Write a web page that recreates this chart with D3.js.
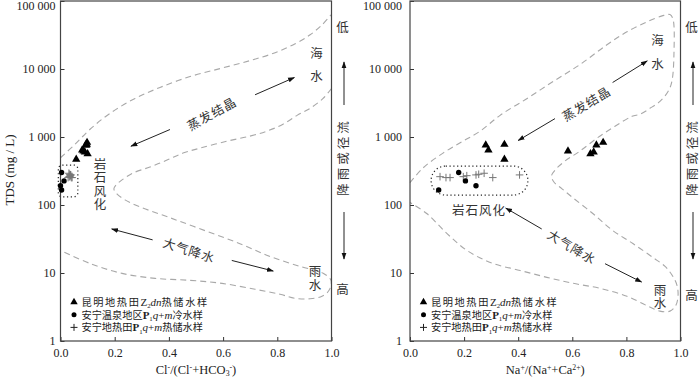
<!doctype html>
<html>
<head>
<meta charset="utf-8">
<style>
  body { margin:0; background:#fff; }
  svg { display:block; font-family:"Liberation Serif", "Times New Roman", serif; }
</style>
<script src="https://d3js.org/d3.v7.min.js"></script>
</head>
<body>
<script>
// ---- data ----
var tdsTicks = [1, 10, 100, 1000, 10000, 100000];
var ratioTicks = [0, 0.2, 0.4, 0.6, 0.8, 1.0];

// Kunming Z2dn geothermal water (triangles)
var kmTDS = [759, 641, 777, 469, 620, 566, 600, 759, 831];
var kmCl  = [0.095, 0.080, 0.097, 0.058, 0.085, 0.100, 0.090, 0.093, 0.098];
var kmNa  = [0.280, 0.290, 0.349, 0.349, 0.584, 0.667, 0.679, 0.689, 0.714];

// Anning spring area P1q+m cold water (circles)
var coldTDS = [300, 226, 192, 166];
var coldCl  = [0.004, 0.013, 0.000, 0.004];
var coldNa  = [0.180, 0.205, 0.244, 0.106];

// Anning geothermal P1q+m water (crosses)
var geoTDS = [261, 253, 253, 261, 270, 277, 283, 293, 253, 277];
var geoCl  = [0.035, 0.028, 0.040, 0.032, 0.036, 0.038, 0.034, 0.031, 0.043, 0.037];
var geoNa  = [0.111, 0.133, 0.148, 0.197, 0.210, 0.244, 0.254, 0.274, 0.306, 0.405];

// Gibbs envelope (ratio, TDS)
var envClTop = [[0,495],[0.054,785],[0.109,1300],[0.183,2230],[0.275,3690],[0.367,5350],
  [0.478,7740],[0.589,10140],[0.699,13270],[0.792,17380],[0.866,23500],[0.921,31850],[0.965,44600],[0.998,62400]];
var envClRest = [[1.0,5170],[0.969,3690],[0.921,2640],[0.873,2080],[0.821,1540],[0.762,1220],
  [0.699,1030],[0.614,868],[0.515,686],[0.452,580],[0.393,458],[0.330,362],[0.268,296],[0.227,234],
  [0.205,197],[0.197,173],[0.208,146],[0.238,119],[0.293,94],[0.404,65],[0.533,42],[0.662,27],
  [0.773,17.5],[0.884,12.5],[0.969,9.9],[0.998,7.8],[0.991,5.57],[0.965,4.55],[0.921,4.18],
  [0.865,4.25],[0.810,4.87],[0.718,5.76],[0.596,7.04],[0.478,7.8],[0.349,8.34],[0.227,9.87],
  [0.109,13.8],[0,21.4]];
var envNa = [[0,213],[0.048,350],[0.122,580],[0.196,868],[0.259,1216],[0.333,2083],[0.433,3690],
  [0.529,6540],[0.628,11600],[0.728,22700],[0.802,35200],[0.876,49300],[0.932,60400],[0.961,63100],
  [0.972,54600],[0.976,17960],[0.968,6540],[0.954,4670],[0.924,3340],[0.887,2640],[0.850,2155],
  [0.821,2015],[0.758,1440],[0.691,960],[0.628,620],[0.573,443],[0.540,338],[0.523,267],[0.532,218],
  [0.562,173],[0.603,127],[0.677,74.3],[0.750,42],[0.824,27.1],[0.898,16.9],[0.943,12.5],[0.972,8.9],
  [0.987,6.59],[0.991,4.71],[0.983,3.36],[0.961,2.75],[0.924,2.75],[0.880,3.25],[0.802,4.55],
  [0.702,5.96],[0.603,7.05],[0.506,8.63],[0.407,10.9],[0.307,13.8],[0.211,21.4],[0.137,37.9],
  [0.063,74.3],[0,109]];

// dotted rock-weathering boxes [ratio range], [TDS range]
var boxCl = {x: [-0.008, 0.064], t: [132, 387]};
var boxNa = {x: [0.078, 0.436], t: [140, 374]};

var legendRows = [
  [["昆明地热田","cs"],["Z","r"],["2","sub"],["dn","i"],["热储水样","cs"]],
  [["安宁温泉地区","c"],["P","b"],["1","sub"],["q","i"],["+","r"],["m","i"],["冷水样","c"]],
  [["安宁地热田","c"],["P","b"],["1","sub"],["q","i"],["+","r"],["m","i"],["热储水样","c"]]
];

// ---- drawing ----
var W = 700, H = 377;
var svg = d3.select("body").append("svg").attr("width", W).attr("height", H);
svg.append("rect").attr("width", W).attr("height", H).attr("fill", "#fff");

var CJK = '"Noto Sans CJK SC", sans-serif';
var SERIF = '"Liberation Serif", "Times New Roman", serif';

function rich(t, parts, fs) {
  var shift = 0;
  parts.forEach(function(p) {
    var target = p[1] === "sub" ? 2.5 : (p[1] === "sup" ? -4 : 0);
    var ts = t.append("tspan").text(p[0]);
    if (target !== shift) ts.attr("dy", target - shift);
    shift = target;
    if (p[1] === "c" || p[1] === "cs") ts.style("font-family", CJK).style("font-size", (fs - 0.8) + "px");
    else ts.style("font-family", SERIF);
    if (p[1] === "cs") ts.style("letter-spacing", "1.6px");
    if (p[1] === "sub" || p[1] === "sup") ts.style("font-size", (fs * 0.62) + "px");
    if (p[1] === "i") ts.style("font-style", "italic");
    if (p[1] === "b") ts.style("font-weight", "bold");
  });
  return t;
}

svg.append("defs").append("marker")
  .attr("id", "ah").attr("viewBox", "0 0 10 10")
  .attr("refX", 9).attr("refY", 5)
  .attr("markerWidth", 7).attr("markerHeight", 7)
  .attr("orient", "auto")
  .append("path").attr("d", "M0,1.5 L10,5 L0,8.5 Z").attr("fill", "#111");

var fmtTds = function(d) { return d3.format(",")(d).replace(/,/g, " "); };

var panels = [
  {x0: 60.5, x1: 331.5, kmX: kmCl, coldX: coldCl, geoX: geoCl, box: boxCl, boxR: 4,
   env: [envClTop, envClRest], tickPad: 5,
   title: [["Cl","r"],["-","sup"],["/(Cl","r"],["-","sup"],["+HCO","r"],["3","sub"],["-","sup"],[")","r"]],
   texts: [
     {s: "蒸发结晶", x: 0.559, t: 2190, a: -29},
     {s: "大气降水", x: 0.474, t: 21.4, a: 18}
   ],
   // vertical labels: characters stacked top to bottom, anchored at (ratio, TDS of first char)
   vtexts: [
     {s: "海水", x: 0.945, t: 16980, step: 23},
     {s: "雨水", x: 0.939, t: 10.4, step: 13.5},
     {s: "岩石风化", x: 0.146, t: 400, step: 13.6}
   ],
   arrows: [
     [[0.718,4180],[0.863,7490]], [[0.404,1288],[0.260,733]],
     [[0.340,30.7],[0.189,44.4]], [[0.632,15.3],[0.785,10.7]]
   ],
   gao: 289},
  {x0: 410, x1: 680.5, kmX: kmNa, coldX: coldNa, geoX: geoNa, box: boxNa, boxR: 14.6,
   env: [envNa], tickPad: 8,
   title: [["Na","r"],["+","sup"],["/(Na","r"],["+","sup"],["+Ca","r"],["2+","sup"],[")","r"]],
   texts: [
     {s: "蒸发结晶", x: 0.653, t: 3070, a: -31},
     {s: "大气降水", x: 0.598, t: 23.9, a: 31},
     {s: "岩石风化", x: 0.255, t: 82.3, a: 0}
   ],
   vtexts: [
     {s: "海水", x: 0.915, t: 26000, step: 23.5},
     {s: "雨水", x: 0.924, t: 5.6, step: 13.5}
   ],
   arrows: [
     [[0.749,6330],[0.877,13130]], [[0.536,1864],[0.400,889]],
     [[0.487,44.4],[0.354,90.1]], [[0.721,13.7],[0.856,7.36]]
   ],
   gao: 295}
];

panels.forEach(function(p) {
  var x = d3.scaleLinear().domain([0, 1]).range([p.x0, p.x1]);
  var y = d3.scaleLog().domain([1, 100000]).range([341, 1]);
  var g = svg.append("g");

  // envelope
  var line = d3.line().x(function(d) { return x(d[0]); }).y(function(d) { return y(d[1]); })
    .curve(d3.curveCatmullRom.alpha(0.5));
  p.env.forEach(function(e) {
    g.append("path").attr("d", line(e)).attr("fill", "none")
      .attr("stroke", "#a8a8a8").attr("stroke-width", 1.1).attr("stroke-dasharray", "6,4");
  });

  // dotted box
  g.append("rect")
    .attr("x", x(p.box.x[0])).attr("y", y(p.box.t[1]))
    .attr("width", x(p.box.x[1]) - x(p.box.x[0]))
    .attr("height", y(p.box.t[0]) - y(p.box.t[1]))
    .attr("rx", p.boxR).attr("ry", p.boxR)
    .attr("fill", "none").attr("stroke", "#222").attr("stroke-width", 1.2)
    .attr("stroke-dasharray", "1.2,2.6");

  // axes
  var ya = d3.axisLeft(y).tickValues(tdsTicks).tickFormat(fmtTds)
    .tickSizeInner(-4).tickSizeOuter(0).tickPadding(p.tickPad);
  var xa = d3.axisBottom(x).tickValues(ratioTicks).tickFormat(d3.format(".1f"))
    .tickSizeInner(-4).tickSizeOuter(0).tickPadding(7);
  var gy = g.append("g").attr("transform", "translate(" + p.x0 + ",0)").call(ya);
  var gx = g.append("g").attr("transform", "translate(0,341)").call(xa);
  [gy, gx].forEach(function(a) {
    a.select(".domain").remove();
    a.selectAll("line").attr("stroke", "#333");
    a.selectAll("text").style("font-family", SERIF).style("font-size", "12px").attr("fill", "#222");
  });
  gy.selectAll(".tick").filter(function(d) { return d === 100000; })
    .select("text").attr("dy", "0.72em");
  g.append("rect").attr("x", p.x0).attr("y", 1)
    .attr("width", p.x1 - p.x0).attr("height", 340)
    .attr("fill", "none").attr("stroke", "#444").attr("stroke-width", 1.2);

  // x title
  rich(g.append("text").attr("x", (p.x0 + p.x1) / 2).attr("y", 373.5)
    .attr("text-anchor", "middle").style("font-size", "12.5px").attr("fill", "#222"), p.title, 12.5);

  // annotation text
  p.texts.forEach(function(t) {
    g.append("text")
      .attr("transform", "translate(" + x(t.x) + "," + y(t.t) + ") rotate(" + t.a + ")")
      .attr("text-anchor", "middle").attr("dy", "0.36em")
      .style("font-family", CJK).style("font-size", "12.5px")
      .style("letter-spacing", "1px")
      .attr("fill", "#333").text(t.s);
  });
  p.vtexts.forEach(function(t) {
    var tx = g.append("text").attr("text-anchor", "middle")
      .style("font-family", CJK).style("font-size", "12.5px").attr("fill", "#333");
    t.s.split("").forEach(function(ch, i) {
      tx.append("tspan").attr("x", x(t.x)).attr("y", y(t.t) + i * t.step + 4.5).text(ch);
    });
  });

  // arrows
  p.arrows.forEach(function(a) {
    g.append("line")
      .attr("x1", x(a[0][0])).attr("y1", y(a[0][1]))
      .attr("x2", x(a[1][0])).attr("y2", y(a[1][1]))
      .attr("stroke", "#222").attr("stroke-width", 1).attr("marker-end", "url(#ah)");
  });

  // crosses
  g.selectAll(".geo").data(geoTDS).enter().append("path")
    .attr("d", function(d, i) {
      var cx = x(p.geoX[i]), cy = y(d), r = 3.8;
      return "M" + (cx - r) + "," + cy + "H" + (cx + r) + "M" + cx + "," + (cy - r) + "V" + (cy + r);
    })
    .attr("stroke", "#777").attr("stroke-width", 1).attr("fill", "none");

  // circles
  g.selectAll(".cold").data(coldTDS).enter().append("circle")
    .attr("cx", function(d, i) { return x(p.coldX[i]); })
    .attr("cy", function(d) { return y(d); })
    .attr("r", 2.7).attr("fill", "#000");

  // triangles
  var tri = d3.symbol().type(d3.symbolTriangle).size(30);
  g.selectAll(".km").data(kmTDS).enter().append("path")
    .attr("d", tri)
    .attr("transform", function(d, i) { return "translate(" + x(p.kmX[i]) + "," + y(d) + ")"; })
    .attr("fill", "#000");

  // legend
  var lx = p.x0 + 13.5;
  legendRows.forEach(function(row, i) {
    var ly = 302 + i * 12.7;
    if (i === 0) g.append("path").attr("d", d3.symbol().type(d3.symbolTriangle).size(24)())
      .attr("transform", "translate(" + lx + "," + ly + ")").attr("fill", "#000");
    if (i === 1) g.append("circle").attr("cx", lx).attr("cy", ly).attr("r", 2.5).attr("fill", "#000");
    if (i === 2) g.append("path")
      .attr("d", "M" + (lx - 3.5) + "," + ly + "H" + (lx + 3.5) + "M" + lx + "," + (ly - 3.5) + "V" + (ly + 3.5))
      .attr("stroke", "#222").attr("stroke-width", 1);
    rich(g.append("text").attr("x", lx + 7.5).attr("y", ly + 3.8)
      .style("font-size", "11px").attr("fill", "#222"), row, 11);
  });

  // side scale: runoff / rainfall
  var sx = p.x1 + 11;
  var side = svg.append("g").style("font-family", CJK).style("font-size", "12.5px").attr("fill", "#333");
  side.append("text").attr("x", sx).attr("y", 27).attr("dy", "0.36em").attr("text-anchor", "middle").text("低");
  side.append("text").attr("x", sx).attr("y", p.gao).attr("dy", "0.36em").attr("text-anchor", "middle").text("高");
  side.append("text").attr("transform", "translate(" + (sx + 1) + ",157) rotate(-90)")
    .attr("dy", "0.36em").attr("text-anchor", "middle").style("letter-spacing", "3px").text("降雨或径流");
  side.append("line").attr("x1", sx + 1.5).attr("y1", 105).attr("x2", sx + 1.5).attr("y2", 62)
    .attr("stroke", "#222").attr("marker-end", "url(#ah)");
  side.append("line").attr("x1", sx + 1.5).attr("y1", 212).attr("x2", sx + 1.5).attr("y2", 259)
    .attr("stroke", "#222").attr("marker-end", "url(#ah)");
});

// y title
svg.append("text").attr("transform", "translate(9,170) rotate(-90)")
  .attr("text-anchor", "middle").attr("dy", "0.36em")
  .style("font-size", "13px").attr("fill", "#222").text("TDS (mg / L)");
</script>
</body>
</html>
